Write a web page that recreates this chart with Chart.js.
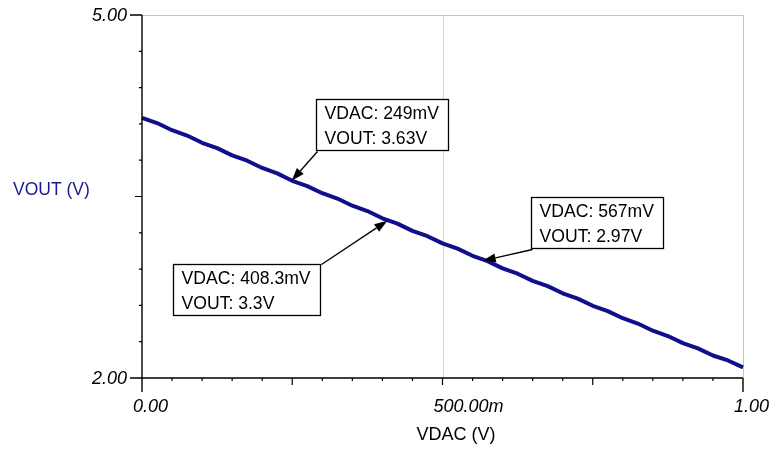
<!DOCTYPE html>
<html>
<head>
<meta charset="utf-8">
<script src="https://cdn.jsdelivr.net/npm/chart.js@4"></script>
<style>
html,body{margin:0;padding:0;background:#fff;}
#wrap{width:771px;height:449px;}
</style>
</head>
<body>
<div id="wrap"><canvas id="c" width="771" height="449"></canvas></div>
<script>
// ---- data ----
const vdac = [0.000,0.025,0.050,0.075,0.100,0.125,0.150,0.175,0.200,0.225,0.250,0.275,0.300,0.325,0.350,0.375,0.400,0.425,0.450,0.475,0.500,0.525,0.550,0.575,0.600,0.625,0.650,0.675,0.700,0.725,0.750,0.775,0.800,0.825,0.850,0.875,0.900,0.925,0.950,0.975,1.000];
const vout = [4.150,4.107,4.048,4.004,3.944,3.900,3.840,3.796,3.736,3.691,3.630,3.586,3.527,3.483,3.424,3.380,3.320,3.276,3.216,3.172,3.113,3.069,3.010,2.966,2.906,2.862,2.803,2.759,2.700,2.656,2.597,2.553,2.494,2.450,2.391,2.347,2.288,2.245,2.186,2.145,2.088];
const xTickValues = [0, 0.5, 1];
const xTickLabels = ['0.00', '500.00m', '1.00'];
const yTickValues = [5, 2];
const yTickLabels = ['5.00', '2.00'];
const xMinorStep = 0.05;
const xMajorStep = 0.25;
const yMinorStep = 0.3;
const yMajorStep = 1.5;
const annVdac = [0.249, 0.4083, 0.567];
const annVout = [3.63, 3.3, 2.97];
const annLine1 = ['VDAC: 249mV', 'VDAC: 408.3mV', 'VDAC: 567mV'];
const annLine2 = ['VOUT: 3.63V', 'VOUT: 3.3V', 'VOUT: 2.97V'];
const xTitle = 'VDAC (V)';
const yTitle = 'VOUT (V)';

const FONT = '"Liberation Sans", Arial, sans-serif';
const LINE_COLOR = '#10108c';

const plotPlugin = {
  id: 'plotDecor',
  beforeDatasetsDraw(chart) {
    const ctx = chart.ctx, xs = chart.scales.x, ys = chart.scales.y;
    const a = chart.chartArea;
    ctx.save();
    ctx.lineWidth = 1;
    ctx.strokeStyle = '#d6d6d6';
    const xm = Math.round(xs.getPixelForValue(0.5)) + 0.5;
    ctx.beginPath(); ctx.moveTo(xm, a.top); ctx.lineTo(xm, a.bottom); ctx.stroke();
    ctx.strokeStyle = '#c4c4c4';
    const xr = Math.round(xs.getPixelForValue(1)) + 0.5;
    const yt = Math.round(ys.getPixelForValue(5)) + 0.5;
    ctx.beginPath(); ctx.moveTo(a.left, yt); ctx.lineTo(xr, yt); ctx.lineTo(xr, a.bottom); ctx.stroke();
    ctx.restore();
  },
  afterDatasetsDraw(chart) {
    const ctx = chart.ctx, xs = chart.scales.x, ys = chart.scales.y;
    const x0 = xs.getPixelForValue(0), x1 = xs.getPixelForValue(1);
    const y0 = ys.getPixelForValue(2), y1 = ys.getPixelForValue(5);
    ctx.save();
    ctx.strokeStyle = '#000';
    ctx.lineWidth = 1.4;
    ctx.beginPath();
    ctx.moveTo(x0, y1); ctx.lineTo(x0, y0 + 14);
    ctx.moveTo(x0 - 12, y0); ctx.lineTo(x1, y0);
    ctx.moveTo(x1, y0); ctx.lineTo(x1, y0 + 14);
    ctx.moveTo(x0 - 12, y1); ctx.lineTo(x0, y1);
    ctx.stroke();
    ctx.lineWidth = 1.2;
    ctx.beginPath();
    const nx = Math.round(1 / xMinorStep);
    for (let i = 1; i < nx; i++) {
      const v = i * xMinorStep;
      const px = xs.getPixelForValue(v);
      const major = Math.abs(v / xMajorStep - Math.round(v / xMajorStep)) < 1e-6;
      ctx.moveTo(px, y0); ctx.lineTo(px, y0 + (major ? 7 : 3));
    }
    const ny = Math.round(3 / yMinorStep);
    for (let i = 1; i < ny; i++) {
      const v = 2 + i * yMinorStep;
      const py = ys.getPixelForValue(v);
      const major = Math.abs(i * yMinorStep / yMajorStep - Math.round(i * yMinorStep / yMajorStep)) < 1e-6;
      ctx.moveTo(x0, py); ctx.lineTo(x0 - (major ? 7 : 3), py);
    }
    ctx.stroke();

    ctx.fillStyle = '#000';
    ctx.font = 'italic 18px ' + FONT;
    ctx.textBaseline = 'middle';
    ctx.textAlign = 'left';
    xTickValues.forEach((v, i) => {
      ctx.fillText(xTickLabels[i], xs.getPixelForValue(v) - 9, y0 + 29);
    });
    ctx.textAlign = 'right';
    yTickValues.forEach((v, i) => {
      ctx.fillText(yTickLabels[i], x0 - 15, ys.getPixelForValue(v) + 1);
    });
    ctx.font = '18px ' + FONT;
    ctx.textAlign = 'center';
    ctx.fillText(xTitle, 456, y0 + 57);
    ctx.fillStyle = '#1a1a8e';
    ctx.font = '17.5px ' + FONT;
    ctx.textAlign = 'left';
    ctx.fillText(yTitle, 13, 190);

    const offsets = [[24.4, -81.8, 'bl'], [-214.4, 43.3, 'tr'], [48.2, -63.6, 'bl']];
    ctx.font = '17.6px ' + FONT;
    annVdac.forEach((v, i) => {
      const px = xs.getPixelForValue(v), py = ys.getPixelForValue(annVout[i]);
      const w = Math.round(Math.max(ctx.measureText(annLine1[i]).width, ctx.measureText(annLine2[i]).width) + 18);
      const h = 51;
      const bx = Math.round(px + offsets[i][0]) + 0.5, by = Math.round(py + offsets[i][1]) + 0.5;
      ctx.fillStyle = '#fff';
      ctx.fillRect(bx, by, w, h);
      ctx.strokeStyle = '#000';
      ctx.lineWidth = 1.3;
      ctx.strokeRect(bx, by, w, h);
      ctx.fillStyle = '#000';
      ctx.textAlign = 'left';
      ctx.textBaseline = 'alphabetic';
      ctx.fillText(annLine1[i], bx + 8, by + 19);
      ctx.fillText(annLine2[i], bx + 8, by + 44);
      let sx, sy;
      if (offsets[i][2] === 'bl') { sx = bx + 1; sy = by + h + 1; }
      else { sx = bx + w + 1; sy = by; }
      const ang = Math.atan2(py - sy, px - sx);
      const L = 13, W = 4.5;
      const bxp = px - L * Math.cos(ang), byp = py - L * Math.sin(ang);
      ctx.lineWidth = 1.3;
      ctx.beginPath(); ctx.moveTo(sx, sy); ctx.lineTo(bxp, byp); ctx.stroke();
      ctx.beginPath();
      ctx.moveTo(px, py);
      ctx.lineTo(bxp + W * Math.sin(ang), byp - W * Math.cos(ang));
      ctx.lineTo(bxp - W * Math.sin(ang), byp + W * Math.cos(ang));
      ctx.closePath();
      ctx.fill();
    });
    ctx.restore();
  }
};

new Chart(document.getElementById('c'), {
  type: 'line',
  data: {
    datasets: [{
      label: 'VOUT',
      data: vdac.map((x, i) => ({ x: x, y: vout[i] })),
      borderColor: LINE_COLOR,
      borderWidth: 4,
      borderJoinStyle: 'round',
      pointRadius: 0,
      tension: 0,
      fill: false,
      clip: false
    }]
  },
  options: {
    responsive: false,
    devicePixelRatio: 1,
    animation: false,
    layout: { padding: { left: 142, right: 28, top: 15, bottom: 71 } },
    plugins: { legend: { display: false }, tooltip: { enabled: false } },
    scales: {
      x: { type: 'linear', min: 0, max: 1, display: false },
      y: { type: 'linear', min: 2, max: 5, display: false }
    }
  },
  plugins: [plotPlugin]
});
</script>
</body>
</html>
